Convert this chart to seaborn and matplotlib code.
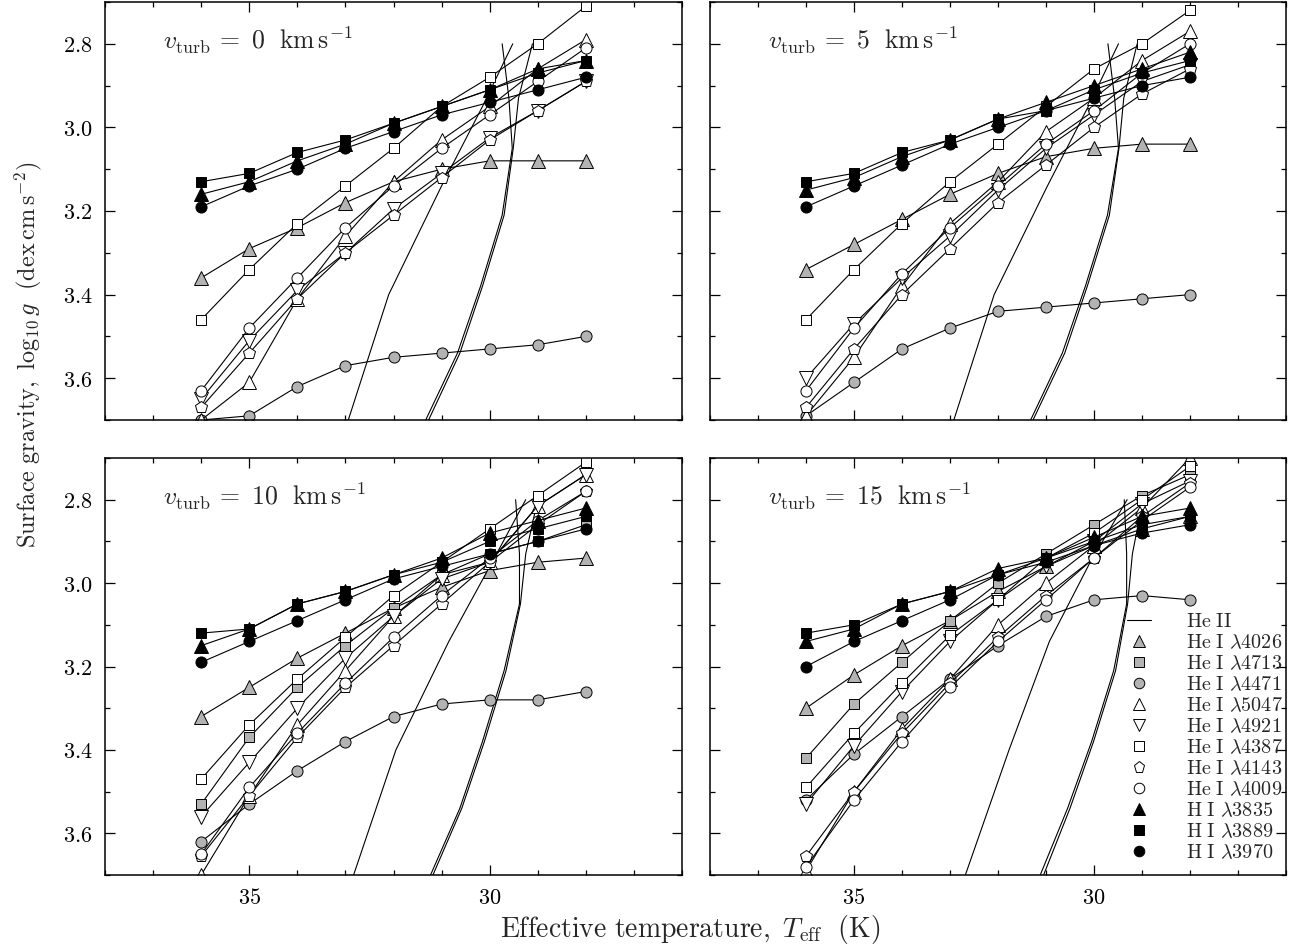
import matplotlib
matplotlib.use("Agg")
import matplotlib.pyplot as plt
from matplotlib.lines import Line2D
from matplotlib.ticker import MultipleLocator, FuncFormatter
import pandas as pd
import seaborn as sns

# ---------------------------------------------------------------------------
# Model grid: effective temperature (kK) and microturbulence (km/s)
# ---------------------------------------------------------------------------
TEFF = [36, 35, 34, 33, 32, 31, 30, 29, 28]
VTURB = [0, 5, 10, 15]

# log g fitted from each diagnostic line, vturb = 0 km/s
v00_hei4026 = [3.36, 3.29, 3.24, 3.18, 3.13, 3.10, 3.08, 3.08, 3.08]
v00_hei4471 = [3.70, 3.69, 3.62, 3.57, 3.55, 3.54, 3.53, 3.52, 3.50]
v00_hei5047 = [3.70, 3.61, 3.41, 3.26, 3.13, 3.03, 2.95, 2.86, 2.79]
v00_hei4921 = [3.65, 3.51, 3.39, 3.30, 3.195, 3.11, 3.025, 2.96, 2.89]
v00_hei4387 = [3.46, 3.34, 3.23, 3.14, 3.05, 2.95, 2.88, 2.80, 2.71]
v00_hei4143 = [3.67, 3.54, 3.41, 3.30, 3.21, 3.12, 3.03, 2.96, 2.89]
v00_hei4009 = [3.63, 3.48, 3.36, 3.24, 3.14, 3.05, 2.97, 2.89, 2.81]
v00_hi3835 = [3.16, 3.13, 3.08, 3.04, 2.99, 2.95, 2.91, 2.86, 2.84]
v00_hi3889 = [3.13, 3.11, 3.06, 3.03, 2.99, 2.95, 2.91, 2.87, 2.84]
v00_hi3970 = [3.19, 3.14, 3.10, 3.05, 3.01, 2.97, 2.94, 2.91, 2.88]

# vturb = 5 km/s
v05_hei4026 = [3.34, 3.28, 3.22, 3.16, 3.11, 3.07, 3.05, 3.04, 3.04]
v05_hei4471 = [3.69, 3.61, 3.53, 3.48, 3.44, 3.43, 3.42, 3.41, 3.40]
v05_hei5047 = [3.69, 3.55, 3.38, 3.23, 3.13, 3.01, 2.93, 2.84, 2.77]
v05_hei4921 = [3.60, 3.47, 3.36, 3.26, 3.15, 3.05, 2.97, 2.89, 2.85]
v05_hei4387 = [3.46, 3.34, 3.23, 3.13, 3.04, 2.95, 2.86, 2.80, 2.72]
v05_hei4143 = [3.67, 3.53, 3.40, 3.29, 3.18, 3.09, 3.00, 2.92, 2.86]
v05_hei4009 = [3.63, 3.48, 3.35, 3.24, 3.14, 3.04, 2.96, 2.87, 2.80]
v05_hi3835 = [3.15, 3.12, 3.07, 3.03, 2.98, 2.94, 2.90, 2.86, 2.82]
v05_hi3889 = [3.13, 3.11, 3.06, 3.03, 2.98, 2.96, 2.91, 2.87, 2.84]
v05_hi3970 = [3.19, 3.14, 3.09, 3.04, 3.00, 2.96, 2.93, 2.90, 2.88]

# vturb = 10 km/s
v10_hei4026 = [3.32, 3.25, 3.18, 3.12, 3.06, 3.01, 2.97, 2.95, 2.94]
v10_hei4713 = [3.53, 3.37, 3.25, 3.15, 3.06, 2.98, 2.93, 2.90, 2.86]
v10_hei4471 = [3.62, 3.53, 3.45, 3.38, 3.32, 3.29, 3.28, 3.28, 3.26]
v10_hei5047 = [3.70, 3.51, 3.34, 3.21, 3.08, 2.98, 2.95, 2.815, 2.74]
v10_hei4921 = [3.56, 3.43, 3.30, 3.18, 3.08, 2.99, 2.95, 2.815, 2.74]
v10_hei4387 = [3.47, 3.34, 3.23, 3.13, 3.03, 2.95, 2.87, 2.79, 2.71]
v10_hei4143 = [3.655, 3.51, 3.37, 3.25, 3.15, 3.05, 2.95, 2.86, 2.78]
v10_hei4009 = [3.65, 3.49, 3.36, 3.24, 3.13, 3.03, 2.94, 2.85, 2.78]
v10_hi3835 = [3.15, 3.11, 3.05, 3.02, 2.98, 2.94, 2.88, 2.85, 2.82]
v10_hi3889 = [3.12, 3.11, 3.05, 3.02, 2.98, 2.95, 2.90, 2.87, 2.84]
v10_hi3970 = [3.19, 3.14, 3.09, 3.04, 2.99, 2.96, 2.93, 2.90, 2.87]

# vturb = 15 km/s
v15_hei4026 = [3.30, 3.22, 3.15, 3.09, 3.02, 2.96, 2.91, 2.87, 2.84]
v15_hei4713 = [3.42, 3.29, 3.19, 3.09, 3.00, 2.93, 2.86, 2.79, 2.74]
v15_hei4471 = [3.52, 3.41, 3.32, 3.23, 3.15, 3.08, 3.04, 3.03, 3.04]
v15_hei5047 = [3.69, 3.50, 3.35, 3.23, 3.10, 3.00, 2.91, 2.82, 2.70]
v15_hei4921 = [3.53, 3.39, 3.26, 3.14, 3.04, 2.96, 2.90, 2.81, 2.755]
v15_hei4387 = [3.49, 3.36, 3.24, 3.125, 3.04, 2.94, 2.88, 2.80, 2.72]
v15_hei4143 = [3.655, 3.50, 3.36, 3.24, 3.13, 3.03, 2.94, 2.84, 2.76]
v15_hei4009 = [3.68, 3.52, 3.38, 3.25, 3.14, 3.04, 2.94, 2.85, 2.77]
v15_hi3835 = [3.14, 3.11, 3.05, 3.02, 2.965, 2.94, 2.89, 2.84, 2.82]
v15_hi3889 = [3.12, 3.10, 3.05, 3.02, 2.98, 2.94, 2.90, 2.86, 2.84]
v15_hi3970 = [3.20, 3.14, 3.09, 3.04, 2.98, 2.95, 2.91, 2.88, 2.86]

# He II loci: Teff (kK) at fixed log g nodes
HEII_A_LOGG = [2.80, 2.95, 3.14, 3.40, 3.70]
HEII_B_LOGG = [2.80, 2.93, 3.05, 3.21, 3.38, 3.54, 3.70]
heii_a_v00 = [29.52, 30.15, 31.00, 32.10, 32.94]
heii_b1_v00 = [29.74, 29.60, 29.53, 29.74, 30.19, 30.67, 31.33]
heii_b2_v00 = [29.11, 29.40, 29.51, 29.70, 30.15, 30.62, 31.27]
heii_a_v05 = [29.49, 30.12, 30.97, 32.08, 32.92]
heii_b1_v05 = [29.71, 29.57, 29.49, 29.72, 30.18, 30.66, 31.32]
heii_b2_v05 = [29.10, 29.38, 29.48, 29.68, 30.14, 30.61, 31.27]
heii_a_v10 = [29.25, 29.95, 30.85, 31.95, 32.83]
heii_b1_v10 = [29.46, 29.38, 29.38, 29.70, 30.15, 30.62, 31.23]
heii_b2_v10 = [29.00, 29.25, 29.36, 29.66, 30.11, 30.58, 31.18]
heii_a_v15 = [29.31, 30.08, 30.93, 31.77, 32.68]
heii_b1_v15 = [29.37, 29.32, 29.32, 29.59, 30.05, 30.55, 31.12]
heii_b2_v15 = [28.98, 29.20, 29.30, 29.55, 30.01, 30.50, 31.05]

# Diagnostic lines: id, legend label, marker, face colour, marker size
GREY = "#b3b3b3"
LINE_IDS = ["HeI4026", "HeI4713", "HeI4471", "HeI5047", "HeI4921",
            "HeI4387", "HeI4143", "HeI4009", "HI3835", "HI3889", "HI3970"]
LINE_LABELS = [r"$\mathrm{He\ I}\ \lambda4026$", r"$\mathrm{He\ I}\ \lambda4713$",
               r"$\mathrm{He\ I}\ \lambda4471$", r"$\mathrm{He\ I}\ \lambda5047$",
               r"$\mathrm{He\ I}\ \lambda4921$", r"$\mathrm{He\ I}\ \lambda4387$",
               r"$\mathrm{He\ I}\ \lambda4143$", r"$\mathrm{He\ I}\ \lambda4009$",
               r"$\mathrm{H\ I}\ \lambda3835$", r"$\mathrm{H\ I}\ \lambda3889$",
               r"$\mathrm{H\ I}\ \lambda3970$"]
MARKERS = ["^", "s", "o", "^", "v", "s", "p", "o", "^", "s", "o"]
FACES = [GREY, GREY, GREY, "white", "white", "white", "white", "white",
         "black", "black", "black"]
SIZES = {"^": 9.5, "v": 9.5, "s": 7.2, "o": 8.0, "p": 8.6}

PANEL_SERIES = {
    0: {"HeI4026": v00_hei4026, "HeI4471": v00_hei4471, "HeI5047": v00_hei5047,
        "HeI4921": v00_hei4921, "HeI4387": v00_hei4387, "HeI4143": v00_hei4143,
        "HeI4009": v00_hei4009, "HI3835": v00_hi3835, "HI3889": v00_hi3889,
        "HI3970": v00_hi3970},
    5: {"HeI4026": v05_hei4026, "HeI4471": v05_hei4471, "HeI5047": v05_hei5047,
        "HeI4921": v05_hei4921, "HeI4387": v05_hei4387, "HeI4143": v05_hei4143,
        "HeI4009": v05_hei4009, "HI3835": v05_hi3835, "HI3889": v05_hi3889,
        "HI3970": v05_hi3970},
    10: {"HeI4026": v10_hei4026, "HeI4713": v10_hei4713, "HeI4471": v10_hei4471,
         "HeI5047": v10_hei5047, "HeI4921": v10_hei4921, "HeI4387": v10_hei4387,
         "HeI4143": v10_hei4143, "HeI4009": v10_hei4009, "HI3835": v10_hi3835,
         "HI3889": v10_hi3889, "HI3970": v10_hi3970},
    15: {"HeI4026": v15_hei4026, "HeI4713": v15_hei4713, "HeI4471": v15_hei4471,
         "HeI5047": v15_hei5047, "HeI4921": v15_hei4921, "HeI4387": v15_hei4387,
         "HeI4143": v15_hei4143, "HeI4009": v15_hei4009, "HI3835": v15_hi3835,
         "HI3889": v15_hi3889, "HI3970": v15_hi3970},
}
PANEL_HEII = {
    0: [(heii_a_v00, HEII_A_LOGG), (heii_b1_v00, HEII_B_LOGG), (heii_b2_v00, HEII_B_LOGG)],
    5: [(heii_a_v05, HEII_A_LOGG), (heii_b1_v05, HEII_B_LOGG), (heii_b2_v05, HEII_B_LOGG)],
    10: [(heii_a_v10, HEII_A_LOGG), (heii_b1_v10, HEII_B_LOGG), (heii_b2_v10, HEII_B_LOGG)],
    15: [(heii_a_v15, HEII_A_LOGG), (heii_b1_v15, HEII_B_LOGG), (heii_b2_v15, HEII_B_LOGG)],
}

# Long-form tables built from the lists above
rows = []
for vt, series in PANEL_SERIES.items():
    for lid, vals in series.items():
        for t, g in zip(TEFF, vals):
            rows.append({"vturb": vt, "line": lid, "teff": t, "logg": g})
grid = pd.DataFrame(rows)

heii_rows = []
for vt, curves in PANEL_HEII.items():
    for k, (tt, gg) in enumerate(curves):
        for i, (t, g) in enumerate(zip(tt, gg)):
            heii_rows.append({"vturb": vt, "curve": k, "order": i, "teff": t, "logg": g})
heii = pd.DataFrame(heii_rows)

# ---------------------------------------------------------------------------
sns.set_theme(style="ticks")
plt.rcParams.update({
    "mathtext.fontset": "cm",
    "font.family": ["DejaVu Serif"],
    "axes.linewidth": 1.1,
    "axes.edgecolor": "black",
    "xtick.color": "black",
    "ytick.color": "black",
})

fig = plt.figure(figsize=(12.9, 9.52), dpi=100)
W, H = 1290.0, 952.0
boxes = {
    0: (105, 2, 682, 420),
    5: (710, 2, 1286, 420),
    10: (105, 458, 682, 875),
    15: (710, 458, 1286, 875),
}

marker_of = dict(zip(LINE_IDS, MARKERS))
face_of = dict(zip(LINE_IDS, FACES))

axes = {}
for vt in VTURB:
    x0, y0, x1, y1 = boxes[vt]
    ax = fig.add_axes([x0 / W, 1 - y1 / H, (x1 - x0) / W, (y1 - y0) / H])
    axes[vt] = ax

    # He II loci
    hsub = heii[heii["vturb"] == vt]
    for k in sorted(hsub["curve"].unique()):
        c = hsub[hsub["curve"] == k].sort_values("order")
        sns.lineplot(data=c, x="teff", y="logg", ax=ax, color="black",
                     linewidth=0.8, estimator=None, sort=False, legend=False)

    # diagnostic lines
    sub = grid[grid["vturb"] == vt]
    for lid in LINE_IDS:
        s = sub[sub["line"] == lid]
        if s.empty:
            continue
        m = marker_of[lid]
        sns.lineplot(data=s, x="teff", y="logg", ax=ax, color="black",
                     linewidth=0.8, marker=m, markersize=SIZES[m],
                     markerfacecolor=face_of[lid], markeredgecolor="black",
                     markeredgewidth=0.7, estimator=None, sort=False,
                     legend=False)

    ax.set_xlim(38, 26)
    ax.set_ylim(3.7, 2.7)
    ax.set_xlabel("")
    ax.set_ylabel("")
    ax.xaxis.set_major_locator(MultipleLocator(5))
    ax.xaxis.set_minor_locator(MultipleLocator(1))
    ax.yaxis.set_major_locator(MultipleLocator(0.2))
    ax.yaxis.set_minor_locator(MultipleLocator(0.1))
    ax.tick_params(which="both", direction="in", top=True, right=True,
                   width=0.9)
    ax.tick_params(which="major", length=7.5, pad=9, labelsize=16)
    ax.tick_params(which="minor", length=3.5)
    ax.xaxis.set_major_formatter(FuncFormatter(lambda v, p: f"${v:.0f}$"))
    ax.yaxis.set_major_formatter(FuncFormatter(lambda v, p: f"${v:.1f}$"))
    if vt in (0, 5):
        ax.tick_params(labelbottom=False)
    if vt in (5, 15):
        ax.tick_params(labelleft=False)

    ax.text(0.10, 0.885,
            r"$v_{\mathrm{turb}}\,=\ %d\ \ \mathrm{km\,s^{-1}}$" % vt,
            transform=ax.transAxes, fontsize=18.5, ha="left", va="baseline")

# Legend
handles = [Line2D([], [], color="black", linewidth=0.8)]
labels = [r"$\mathrm{He\ II}$"]
for lid, lab in zip(LINE_IDS, LINE_LABELS):
    m = marker_of[lid]
    handles.append(Line2D([], [], linestyle="none", marker=m,
                          markersize=SIZES[m] * 0.95,
                          markerfacecolor=face_of[lid], markeredgecolor="black",
                          markeredgewidth=0.7))
    labels.append(lab)
axes[15].legend(handles, labels, loc="upper left",
                bbox_to_anchor=((1127 - 710) / 576.0, (875 - 612) / 417.0),
                frameon=False, fontsize=14.5, handlelength=1.2,
                handletextpad=1.75, labelspacing=0.1, borderpad=0,
                borderaxespad=0, numpoints=1)

fig.text(690 / W, 1 - 930 / H,
         r"$\mathrm{Effective\ temperature,}\ T_{\mathrm{eff}}\ \ \mathrm{(K)}$",
         ha="center", va="center", fontsize=20)
fig.text(28 / W, 1 - 355 / H,
         r"$\mathrm{Surface\ gravity,}\ \log_{10}g\ \ \mathrm{(dex\,cm\,s^{-2})}$",
         ha="center", va="center", rotation=90, fontsize=17.5)

fig.savefig("out.png", dpi=100)
